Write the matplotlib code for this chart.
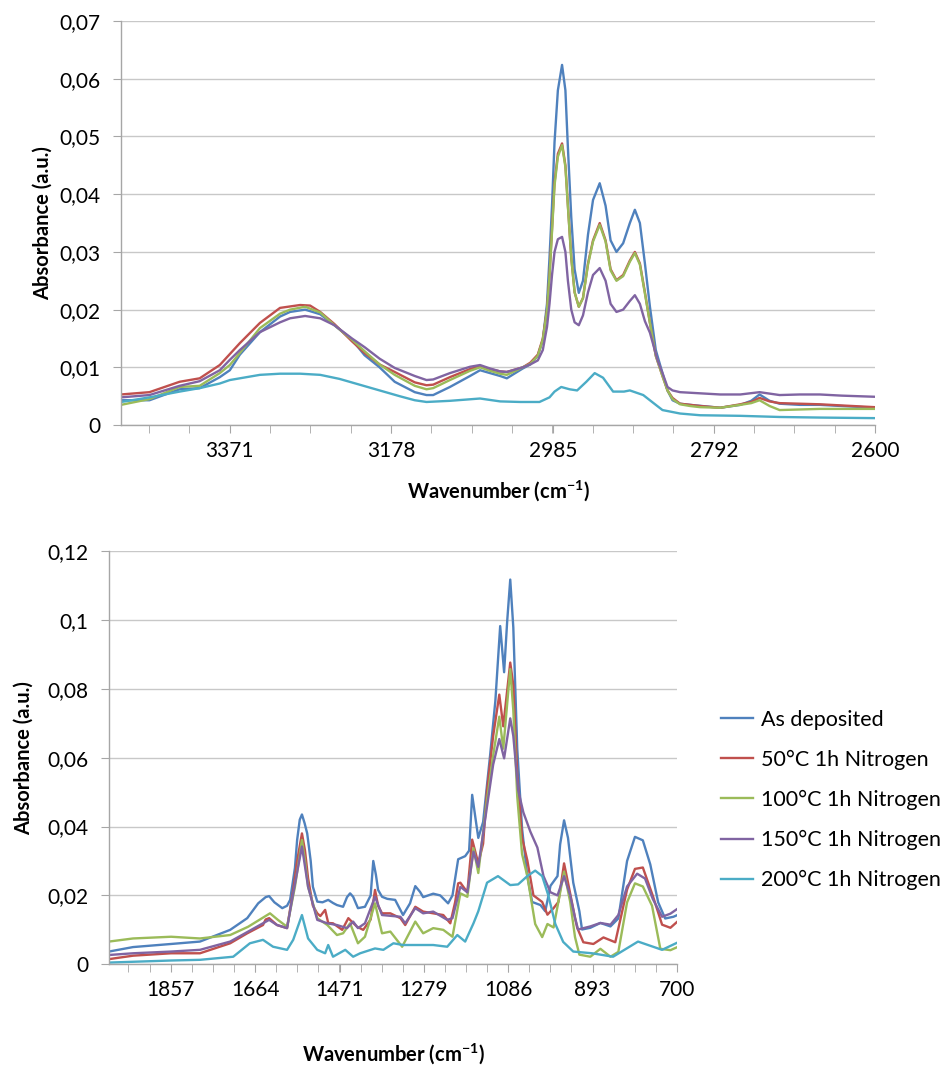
import matplotlib
matplotlib.use("Agg")
import matplotlib.pyplot as plt
import numpy as np
from matplotlib.ticker import FuncFormatter, FixedLocator

plt.rcParams['font.family'] = ['Lato', 'DejaVu Sans']
plt.rcParams['mathtext.fontset'] = 'custom'
plt.rcParams['mathtext.rm'] = 'Lato'
plt.rcParams['mathtext.bf'] = 'Lato:bold'

series_names = ["As deposited", "50°C 1h Nitrogen", "100°C 1h Nitrogen",
                "150°C 1h Nitrogen", "200°C 1h Nitrogen"]
series_colors = ["#4F81BD", "#C0504D", "#9BBB59", "#8064A2", "#4BACC6"]

# ---- top panel: C-H stretching region (wavenumber, absorbance) ----
top_blue = [(3501, 0.0043), (3467, 0.0043), (3431, 0.0062), (3407, 0.0064), (3383, 0.0083), (3371, 0.0095),
            (3359, 0.0122), (3335, 0.0161), (3311, 0.0188), (3299, 0.0196), (3281, 0.0200), (3263, 0.0192),
            (3246, 0.0173), (3225, 0.0148), (3210, 0.0121), (3192, 0.0100), (3174, 0.0075), (3150, 0.0057),
            (3136, 0.0052), (3128, 0.0052), (3108, 0.0066), (3084, 0.0085), (3072, 0.0095), (3060, 0.0090),
            (3048, 0.0085), (3040, 0.0081), (3021, 0.0098), (3012, 0.0105), (3003, 0.0120), (2997, 0.0147),
            (2992, 0.0210), (2989, 0.0290), (2986, 0.0380), (2983, 0.0490), (2979, 0.0580), (2974, 0.0624),
            (2970, 0.0580), (2967, 0.0480), (2963, 0.0360), (2959, 0.0270), (2954, 0.0229), (2949, 0.0250),
            (2943, 0.0330), (2937, 0.0390), (2929, 0.0419), (2922, 0.0380), (2916, 0.0320), (2909, 0.0300),
            (2901, 0.0315), (2893, 0.0350), (2887, 0.0373), (2881, 0.0350), (2875, 0.0280), (2869, 0.0205),
            (2862, 0.0130), (2854, 0.0090), (2848, 0.0060), (2842, 0.0043), (2833, 0.0037), (2821, 0.0035),
            (2785, 0.0030), (2761, 0.0035), (2748, 0.0042), (2738, 0.0053), (2726, 0.0042), (2714, 0.0037),
            (2690, 0.0035), (2666, 0.0035), (2640, 0.0033), (2600, 0.0030)]
top_red = [(3501, 0.0053), (3467, 0.0057), (3431, 0.0075), (3407, 0.0081), (3383, 0.0104), (3359, 0.0142),
           (3335, 0.0177), (3311, 0.0203), (3287, 0.0208), (3275, 0.0207), (3263, 0.0196), (3246, 0.0175),
           (3225, 0.0145), (3210, 0.0125), (3192, 0.0105), (3174, 0.0092), (3150, 0.0074), (3136, 0.0069),
           (3128, 0.0070), (3108, 0.0083), (3084, 0.0097), (3072, 0.0102), (3060, 0.0097), (3048, 0.0093),
           (3040, 0.0092), (3021, 0.0100), (3012, 0.0108), (3003, 0.0122), (2997, 0.0150), (2992, 0.0200),
           (2989, 0.0260), (2986, 0.0340), (2983, 0.0420), (2979, 0.0470), (2974, 0.0488), (2970, 0.0450),
           (2967, 0.0380), (2963, 0.0290), (2959, 0.0230), (2954, 0.0205), (2949, 0.0220), (2943, 0.0280),
           (2937, 0.0320), (2929, 0.0350), (2922, 0.0320), (2916, 0.0270), (2909, 0.0251), (2901, 0.0260),
           (2893, 0.0285), (2887, 0.0300), (2881, 0.0280), (2875, 0.0230), (2869, 0.0177), (2862, 0.0120),
           (2854, 0.0085), (2848, 0.0060), (2842, 0.0047), (2833, 0.0037), (2821, 0.0035), (2809, 0.0033),
           (2785, 0.0030), (2761, 0.0036), (2748, 0.0040), (2738, 0.0047), (2726, 0.0041), (2714, 0.0038),
           (2690, 0.0037), (2666, 0.0036), (2640, 0.0034), (2600, 0.0031)]
top_green = [(3501, 0.0035), (3467, 0.0045), (3431, 0.0066), (3407, 0.0068), (3383, 0.0090), (3371, 0.0104),
             (3359, 0.0125), (3335, 0.0168), (3311, 0.0193), (3299, 0.0200), (3281, 0.0205), (3263, 0.0195),
             (3246, 0.0173), (3225, 0.0148), (3210, 0.0128), (3192, 0.0105), (3174, 0.0087), (3150, 0.0068),
             (3136, 0.0062), (3128, 0.0064), (3108, 0.0078), (3084, 0.0094), (3072, 0.0100), (3060, 0.0094),
             (3048, 0.0089), (3040, 0.0087), (3021, 0.0100), (3012, 0.0106), (3003, 0.0120), (2997, 0.0148),
             (2992, 0.0198), (2989, 0.0258), (2986, 0.0335), (2983, 0.0415), (2979, 0.0465), (2974, 0.0485),
             (2970, 0.0447), (2967, 0.0378), (2963, 0.0290), (2959, 0.0230), (2954, 0.0205), (2949, 0.0220),
             (2943, 0.0278), (2937, 0.0318), (2929, 0.0347), (2922, 0.0318), (2916, 0.0268), (2909, 0.0250),
             (2901, 0.0258), (2893, 0.0283), (2887, 0.0298), (2881, 0.0278), (2875, 0.0228), (2869, 0.0177),
             (2862, 0.0120), (2854, 0.0085), (2848, 0.0060), (2842, 0.0045), (2833, 0.0036), (2821, 0.0033),
             (2809, 0.0031), (2785, 0.0030), (2761, 0.0035), (2748, 0.0038), (2738, 0.0043), (2726, 0.0033),
             (2714, 0.0026), (2690, 0.0027), (2666, 0.0028), (2640, 0.0028), (2600, 0.0028)]
top_purple = [(3501, 0.0048), (3467, 0.0052), (3431, 0.0068), (3407, 0.0076), (3383, 0.0095), (3371, 0.0113),
              (3359, 0.0130), (3335, 0.0161), (3311, 0.0178), (3299, 0.0185), (3281, 0.0189), (3263, 0.0185),
              (3246, 0.0173), (3225, 0.0150), (3210, 0.0135), (3192, 0.0115), (3174, 0.0099), (3150, 0.0085),
              (3136, 0.0078), (3128, 0.0079), (3108, 0.0090), (3084, 0.0101), (3072, 0.0104), (3060, 0.0098),
              (3048, 0.0093), (3040, 0.0092), (3021, 0.0100), (3012, 0.0105), (3003, 0.0112), (2997, 0.0130),
              (2992, 0.0170), (2989, 0.0210), (2986, 0.0260), (2983, 0.0300), (2979, 0.0322), (2974, 0.0326),
              (2970, 0.0300), (2967, 0.0250), (2963, 0.0200), (2959, 0.0178), (2954, 0.0173), (2949, 0.0190),
              (2943, 0.0230), (2937, 0.0260), (2929, 0.0272), (2922, 0.0250), (2916, 0.0210), (2909, 0.0196),
              (2901, 0.0200), (2893, 0.0215), (2887, 0.0225), (2881, 0.0210), (2875, 0.0180), (2869, 0.0160),
              (2860, 0.0113), (2854, 0.0090), (2848, 0.0066), (2842, 0.0060), (2833, 0.0057), (2809, 0.0055),
              (2785, 0.0053), (2761, 0.0053), (2738, 0.0057), (2714, 0.0052), (2690, 0.0053), (2666, 0.0053),
              (2640, 0.0051), (2600, 0.0049)]
top_cyan = [(3501, 0.0040), (3467, 0.0048), (3431, 0.0058), (3407, 0.0064), (3383, 0.0072), (3371, 0.0078),
            (3335, 0.0087), (3311, 0.0089), (3287, 0.0089), (3263, 0.0087), (3240, 0.0080), (3216, 0.0070),
            (3192, 0.0060), (3168, 0.0050), (3150, 0.0043), (3136, 0.0040), (3108, 0.0042), (3072, 0.0046),
            (3048, 0.0041), (3024, 0.0040), (3001, 0.0040), (2989, 0.0048), (2983, 0.0058), (2975, 0.0066),
            (2965, 0.0062), (2956, 0.0060), (2945, 0.0075), (2935, 0.0090), (2925, 0.0082), (2913, 0.0058),
            (2900, 0.0058), (2893, 0.0060), (2877, 0.0052), (2862, 0.0035), (2854, 0.0026), (2833, 0.0020),
            (2809, 0.0017), (2761, 0.0016), (2714, 0.0014), (2666, 0.0013), (2600, 0.0012)]

# ---- bottom panel: fingerprint region (wavenumber, absorbance) ----
bot_blue = [(1998, 0.0037), (1943, 0.0050), (1856, 0.0059), (1790, 0.0066), (1721, 0.0100), (1682, 0.0134),
            (1657, 0.0177), (1640, 0.0195), (1632, 0.0198), (1620, 0.0180), (1602, 0.0163), (1591, 0.0170),
            (1584, 0.0187), (1573, 0.0280), (1568, 0.0361), (1562, 0.0420), (1557, 0.0435), (1551, 0.0410),
            (1545, 0.0380), (1537, 0.0300), (1532, 0.0225), (1522, 0.0182), (1510, 0.0180), (1497, 0.0187),
            (1486, 0.0178), (1477, 0.0172), (1463, 0.0167), (1454, 0.0195), (1447, 0.0206), (1440, 0.0196),
            (1429, 0.0163), (1413, 0.0167), (1400, 0.0200), (1394, 0.0300), (1388, 0.0260), (1383, 0.0216),
            (1374, 0.0196), (1362, 0.0190), (1344, 0.0187), (1326, 0.0143), (1310, 0.0177), (1298, 0.0227),
            (1287, 0.0210), (1280, 0.0195), (1257, 0.0205), (1241, 0.0200), (1223, 0.0177), (1213, 0.0200),
            (1200, 0.0305), (1184, 0.0314), (1175, 0.0330), (1168, 0.0492), (1160, 0.0420), (1154, 0.0367),
            (1143, 0.0413), (1127, 0.0607), (1115, 0.0765), (1104, 0.0982), (1095, 0.0848), (1088, 0.0996),
            (1081, 0.1117), (1074, 0.0978), (1065, 0.0626), (1054, 0.0394), (1042, 0.0256), (1031, 0.0181),
            (1012, 0.0172), (1001, 0.0154), (989, 0.0228), (973, 0.0256), (967, 0.0348), (958, 0.0418),
            (949, 0.0367), (937, 0.0237), (923, 0.0154), (917, 0.0101), (898, 0.0106), (875, 0.0120),
            (852, 0.0110), (834, 0.0133), (814, 0.0300), (796, 0.0370), (778, 0.0360), (761, 0.0290),
            (743, 0.0180), (727, 0.0133), (708, 0.0138), (699, 0.0143)]
bot_red = [(1998, 0.0015), (1943, 0.0025), (1856, 0.0032), (1790, 0.0032), (1721, 0.0061), (1682, 0.0090),
           (1646, 0.0114), (1640, 0.0130), (1632, 0.0134), (1614, 0.0114), (1591, 0.0105), (1577, 0.0216),
           (1568, 0.0300), (1557, 0.0380), (1550, 0.0330), (1543, 0.0250), (1532, 0.0170), (1522, 0.0148),
           (1515, 0.0140), (1504, 0.0158), (1497, 0.0120), (1486, 0.0119), (1465, 0.0100), (1451, 0.0134),
           (1440, 0.0120), (1431, 0.0109), (1417, 0.0100), (1400, 0.0130), (1390, 0.0216), (1383, 0.0170),
           (1374, 0.0148), (1355, 0.0148), (1332, 0.0134), (1321, 0.0114), (1298, 0.0167), (1280, 0.0153),
           (1257, 0.0148), (1234, 0.0143), (1218, 0.0119), (1207, 0.0180), (1200, 0.0235), (1195, 0.0237),
           (1179, 0.0209), (1168, 0.0362), (1154, 0.0293), (1143, 0.0350), (1134, 0.0506), (1120, 0.0663),
           (1106, 0.0783), (1097, 0.0691), (1081, 0.0876), (1074, 0.0811), (1065, 0.0552), (1054, 0.0367),
           (1042, 0.0302), (1028, 0.0200), (1008, 0.0181), (996, 0.0144), (982, 0.0163), (971, 0.0181),
           (958, 0.0293), (949, 0.0237), (933, 0.0135), (928, 0.0106), (914, 0.0064), (891, 0.0059),
           (868, 0.0078), (841, 0.0064), (814, 0.0217), (796, 0.0277), (778, 0.0281), (755, 0.0198),
           (734, 0.0115), (715, 0.0106), (699, 0.0124)]
bot_green = [(1998, 0.0066), (1943, 0.0075), (1856, 0.0080), (1790, 0.0075), (1721, 0.0085), (1680, 0.0109),
             (1630, 0.0148), (1612, 0.0129), (1591, 0.0109), (1573, 0.0225), (1557, 0.0361), (1550, 0.0300),
             (1543, 0.0225), (1522, 0.0134), (1499, 0.0114), (1477, 0.0085), (1463, 0.0090), (1447, 0.0119),
             (1429, 0.0061), (1413, 0.0080), (1390, 0.0177), (1374, 0.0090), (1355, 0.0095), (1328, 0.0051),
             (1298, 0.0124), (1280, 0.0090), (1257, 0.0105), (1234, 0.0100), (1213, 0.0080), (1195, 0.0206),
             (1179, 0.0196), (1165, 0.0337), (1154, 0.0265), (1134, 0.0478), (1120, 0.0607), (1106, 0.0719),
             (1097, 0.0626), (1081, 0.0857), (1074, 0.0737), (1065, 0.0487), (1054, 0.0320), (1042, 0.0256),
             (1024, 0.0117), (1008, 0.0079), (996, 0.0117), (982, 0.0107), (958, 0.0269), (944, 0.0181),
             (933, 0.0079), (923, 0.0028), (898, 0.0022), (875, 0.0045), (852, 0.0022), (834, 0.0036),
             (814, 0.0180), (796, 0.0235), (778, 0.0226), (757, 0.0170), (738, 0.0045), (715, 0.0041),
             (699, 0.0050)]
bot_purple = [(1998, 0.0027), (1943, 0.0032), (1856, 0.0037), (1790, 0.0042), (1721, 0.0066), (1680, 0.0095),
              (1632, 0.0129), (1614, 0.0114), (1591, 0.0105), (1577, 0.0206), (1557, 0.0342), (1543, 0.0225),
              (1522, 0.0129), (1499, 0.0119), (1477, 0.0114), (1454, 0.0105), (1440, 0.0124), (1429, 0.0105),
              (1413, 0.0119), (1390, 0.0196), (1374, 0.0143), (1332, 0.0138), (1321, 0.0119), (1298, 0.0163),
              (1280, 0.0148), (1257, 0.0153), (1225, 0.0129), (1213, 0.0134), (1195, 0.0225), (1179, 0.0209),
              (1165, 0.0327), (1154, 0.0283), (1134, 0.0459), (1120, 0.0580), (1106, 0.0654), (1095, 0.0598),
              (1081, 0.0714), (1074, 0.0663), (1063, 0.0506), (1051, 0.0441), (1035, 0.0385), (1019, 0.0339),
              (1005, 0.0256), (989, 0.0209), (973, 0.0200), (958, 0.0256), (944, 0.0200), (933, 0.0135),
              (926, 0.0101), (898, 0.0110), (875, 0.0120), (852, 0.0115), (834, 0.0143), (814, 0.0226),
              (791, 0.0263), (773, 0.0249), (755, 0.0189), (734, 0.0138), (715, 0.0147), (699, 0.0161)]
bot_cyan = [(1998, 0.0005), (1856, 0.0011), (1790, 0.0013), (1714, 0.0022), (1676, 0.0061), (1646, 0.0071),
            (1623, 0.0051), (1591, 0.0042), (1577, 0.0071), (1557, 0.0143), (1543, 0.0075), (1522, 0.0042),
            (1504, 0.0032), (1497, 0.0056), (1486, 0.0022), (1458, 0.0042), (1440, 0.0022), (1424, 0.0032),
            (1390, 0.0046), (1371, 0.0042), (1348, 0.0061), (1326, 0.0056), (1287, 0.0056), (1257, 0.0056),
            (1225, 0.0051), (1202, 0.0085), (1184, 0.0066), (1165, 0.0119), (1154, 0.0154), (1134, 0.0237),
            (1109, 0.0256), (1081, 0.0230), (1063, 0.0232), (1042, 0.0256), (1024, 0.0272), (1008, 0.0256),
            (994, 0.0200), (978, 0.0117), (960, 0.0065), (937, 0.0037), (894, 0.0032), (846, 0.0022),
            (789, 0.0066), (734, 0.0042), (699, 0.0063)]

top_series = [top_blue, top_red, top_green, top_purple, top_cyan]
bot_series = [bot_blue, bot_red, bot_green, bot_purple, bot_cyan]

top_xlabels = [3371, 3178, 2985, 2792, 2600]
bot_xlabels = [1857, 1664, 1471, 1279, 1086, 893, 700]

GRID = "#C8C8C8"
AXIS = "#A6A6A6"


def comma_fmt(v, pos):
    s = f"{round(v, 4):g}"
    return s.replace(".", ",")


def style_axes(ax, xlim, xlabels, ymax, ystep):
    ax.set_xlim(*xlim)
    ax.set_ylim(0, ymax)
    ax.set_yticks(np.arange(0, ymax + ystep / 2, ystep))
    ax.yaxis.set_major_formatter(FuncFormatter(comma_fmt))
    ax.set_xticks(xlabels)
    ax.set_xticklabels([str(v) for v in xlabels])
    step = (xlabels[0] - xlabels[-1]) / (len(xlabels) - 1) / 4
    minor = [xlabels[-1] + k * step for k in range(int((xlim[0] - xlabels[-1]) / step) + 1)]
    ax.xaxis.set_minor_locator(FixedLocator(minor))
    ax.grid(axis="y", color=GRID, lw=1.0)
    ax.set_axisbelow(True)
    for s in ["top", "right"]:
        ax.spines[s].set_visible(False)
    for s in ["left", "bottom"]:
        ax.spines[s].set_color(AXIS)
        ax.spines[s].set_linewidth(1.0)
    ax.tick_params(axis="y", which="major", length=6, color=AXIS, pad=9, labelsize=15)
    ax.tick_params(axis="x", which="both", length=5.5, color=AXIS, direction="out")
    ax.tick_params(axis="x", which="major", pad=6, labelsize=15)


fig = plt.figure(figsize=(9.5, 10.68), dpi=100)
ax1 = fig.add_axes([0.1274, 0.602, 0.7937, 0.3783])
ax2 = fig.add_axes([0.1147, 0.0971, 0.5979, 0.387])

for data, color, name in zip(top_series, series_colors, series_names):
    x, y = zip(*data)
    ax1.plot(x, y, color=color, lw=1.7, label=name)
for data, color, name in zip(bot_series, series_colors, series_names):
    x, y = zip(*data)
    ax2.plot(x, y, color=color, lw=1.7, label=name)

style_axes(ax1, (3501, 2600), top_xlabels, 0.07, 0.01)
style_axes(ax2, (1998, 700), bot_xlabels, 0.12, 0.02)

xlab = r"Wavenumber (cm$^{\mathbf{-1}}$)"
for ax, ylx, xly in [(ax1, -0.09, -0.132), (ax2, -0.132, -0.187)]:
    ax.set_ylabel("Absorbance (a.u.)", fontsize=14.5, fontweight="bold")
    ax.set_xlabel(xlab, fontsize=14.5, fontweight="bold")
    ax.yaxis.set_label_coords(ylx, 0.5)
    ax.xaxis.set_label_coords(0.5, xly)

handles, labels = ax2.get_legend_handles_labels()
fig.legend(handles, labels, loc="upper left", bbox_to_anchor=(0.759, 0.3355),
           frameon=False, fontsize=15.5, handlelength=1.5, handletextpad=0.36,
           labelspacing=0.93, borderpad=0, borderaxespad=0)

fig.savefig("out.png", dpi=100)
